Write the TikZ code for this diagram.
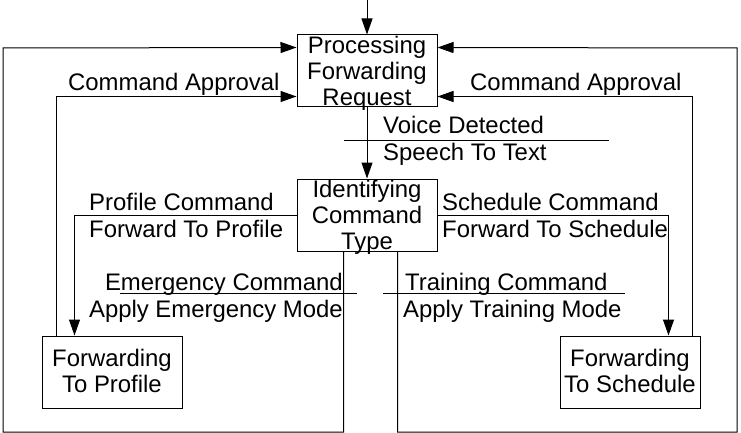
\documentclass[tikz,border=0pt]{standalone}
\usepackage{fontspec}
\setmainfont{Liberation Sans}
\usetikzlibrary{arrows.meta,calc}
\begin{document}
\begin{tikzpicture}[x=1pt,y=-1pt,
  every node/.style={font=\fontsize{23.9}{26}\selectfont, inner sep=0pt},
  box/.style={draw, line width=1pt, minimum width=140pt, minimum height=72pt},
  boxtext/.style={align=center},
  flow/.style={line width=1pt, -{Triangle[length=16pt,width=11pt]}},
  rule/.style={line width=1pt},
  lab/.style={anchor=base west},
  labr/.style={anchor=base east}]
\useasboundingbox (0,0) rectangle (741,433);

% states
\node[box] (P) at (367,71) {};
\node[boxtext] (Pt) at ($(P)+(0,2)$) {Processing\\Forwarding\\Request};
\node[box] (I) at (367,215) {};
\node[boxtext] (It) at ($(I)+(0,2)$) {Identifying\\Command\\Type};
\node[box] (F1) at (112,372) {};
\node[boxtext] (F1t) at ($(F1)+(0,-1.5)$) {Forwarding\\To Profile};
\node[box] (F2) at (630,372) {};
\node[boxtext] (F2t) at ($(F2)+(0,-1.5)$) {Forwarding\\To Schedule};

% loop corners
\coordinate (src) at (367,0);
\coordinate (lowL) at (3,432);
\coordinate (topL) at (3,48);
\coordinate (lowR) at (737,432);
\coordinate (topR) at (737,48);

% transitions
\draw[flow] (src) -- (P.north);
\draw[flow] (P.south) -- (I.north);
\draw[flow] (I.west) -| ($(F1.north west)+(33,0)$);
\draw[flow] (I.east) -| ($(F2.north west)+(109,0)$);
\draw[flow] ($(I.south west)+(47,0)$) |- (lowL) -- (topL) -- ($(P.north west)+(0,13)$);
\draw[flow] ($(I.south east)+(-40,0)$) |- (lowR) -- (topR) -- ($(P.north east)+(0,13)$);
\draw[flow] ($(F1.north west)+(15,0)$) |- ($(P.south west)+(0,-11)$);
\draw[flow] ($(F2.north east)+(-8,0)$) |- ($(P.south east)+(0,-11)$);

% event / action dividers
\draw[rule] (344,140) -- (609,140);
\draw[rule] (120,293) -- (357,293);
\draw[rule] (383,293) -- (625,293);

% transition labels
\node[lab] (l1) at (383,133) {Voice Detected};
\node[lab] (l2) at (383,160) {Speech To Text};
\node[lab] (l3) at (89,210) {Profile Command};
\node[lab] (l4) at (89,237) {Forward To Profile};
\node[lab] (l5) at (442,210) {Schedule Command};
\node[lab] (l6) at (442,237) {Forward To Schedule};
\node[labr] (l7) at (343,290) {Emergency Command};
\node[labr] (l8) at (343,317) {Apply Emergency Mode};
\node[lab] (l9) at (405,290) {Training Command};
\node[lab] (l10) at (403,317) {Apply Training Mode};
\node[lab] (l11) at (68,91) {Command Approval};
\node[lab] (l12) at (470,91) {Command Approval};
\end{tikzpicture}
\end{document}
